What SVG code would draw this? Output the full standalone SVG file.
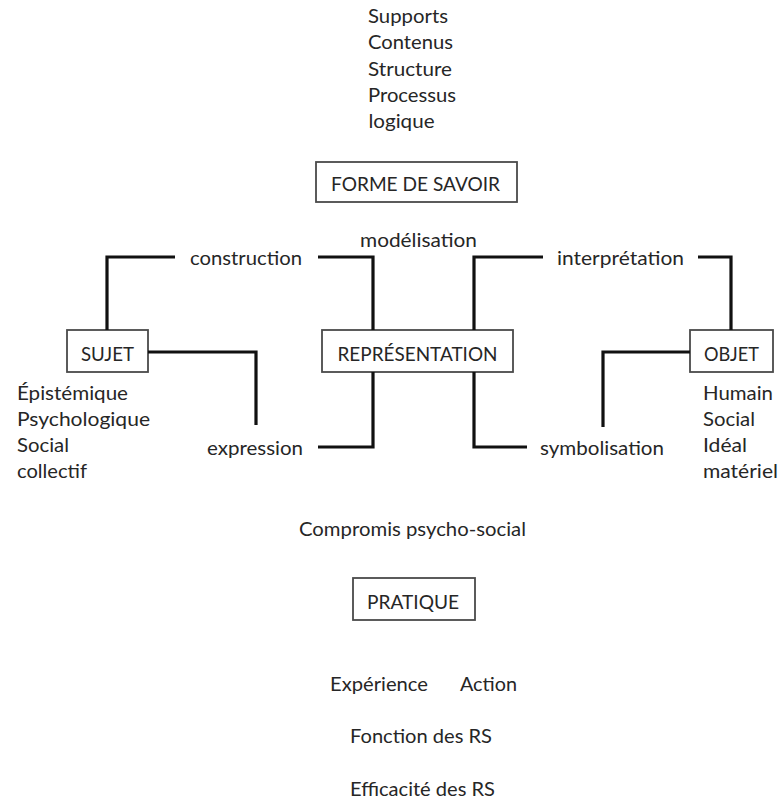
<svg xmlns="http://www.w3.org/2000/svg" width="782" height="802" viewBox="0 0 782 802">
<style>
text{font-family:Lato,"Open Sans","Liberation Sans",sans-serif;font-size:20px;fill:#262626}
.box{fill:#fff;stroke:#4a4a4a;stroke-width:1.8}
.ln{fill:none;stroke:#111;stroke-width:3.2;stroke-linejoin:miter}
</style>
<rect width="782" height="802" fill="#fff"/>
<g id="forme-list">
<text x="368" y="22.5" textLength="80" lengthAdjust="spacingAndGlyphs">Supports</text>
<text x="368" y="49" textLength="85" lengthAdjust="spacingAndGlyphs">Contenus</text>
<text x="368" y="75.5" textLength="84" lengthAdjust="spacingAndGlyphs">Structure</text>
<text x="368" y="102" textLength="88" lengthAdjust="spacingAndGlyphs">Processus</text>
<text x="368.5" y="128" textLength="66" lengthAdjust="spacingAndGlyphs">logique</text>
</g>
<g id="forme"><rect class="box" x="316" y="162" width="201" height="40"/><text x="331" y="191" textLength="169" lengthAdjust="spacingAndGlyphs">FORME DE SAVOIR</text></g>
<g id="sujet"><rect class="box" x="67" y="330" width="81" height="42"/><text x="81" y="361" textLength="53" lengthAdjust="spacingAndGlyphs">SUJET</text></g>
<g id="representation"><rect class="box" x="322" y="330" width="191" height="42"/><text x="337.5" y="361" textLength="160" lengthAdjust="spacingAndGlyphs">REPRÉSENTATION</text></g>
<g id="objet"><rect class="box" x="690" y="330" width="83" height="42"/><text x="704" y="361" textLength="55" lengthAdjust="spacingAndGlyphs">OBJET</text></g>
<g id="pratique"><rect class="box" x="353" y="578" width="122" height="42"/><text x="367" y="608.5" textLength="92" lengthAdjust="spacingAndGlyphs">PRATIQUE</text></g>
<g id="connectors">
<path class="ln" d="M107,330 V257 H175"/>
<path class="ln" d="M318,257 H373 V330"/>
<path class="ln" d="M148,352 H256 V425"/>
<path class="ln" d="M318,447 H373 V372"/>
<path class="ln" d="M474,330 V257 H543"/>
<path class="ln" d="M698,257 H731 V330"/>
<path class="ln" d="M690,352 H603 V427"/>
<path class="ln" d="M474,372 V447 H527"/>
</g>
<g id="labels">
<text x="360" y="247" textLength="117" lengthAdjust="spacingAndGlyphs">modélisation</text>
<text x="190" y="265" textLength="112" lengthAdjust="spacingAndGlyphs">construction</text>
<text x="557" y="265" textLength="127" lengthAdjust="spacingAndGlyphs">interprétation</text>
<text x="207" y="455" textLength="96" lengthAdjust="spacingAndGlyphs">expression</text>
<text x="540" y="455" textLength="124" lengthAdjust="spacingAndGlyphs">symbolisation</text>
</g>
<g id="sujet-list">
<text x="17" y="400" textLength="111" lengthAdjust="spacingAndGlyphs">Épistémique</text>
<text x="17" y="426" textLength="133" lengthAdjust="spacingAndGlyphs">Psychologique</text>
<text x="17" y="452" textLength="52" lengthAdjust="spacingAndGlyphs">Social</text>
<text x="17" y="478" textLength="70" lengthAdjust="spacingAndGlyphs">collectif</text>
</g>
<g id="objet-list">
<text x="703" y="400" textLength="70" lengthAdjust="spacingAndGlyphs">Humain</text>
<text x="703" y="426" textLength="52" lengthAdjust="spacingAndGlyphs">Social</text>
<text x="703" y="452" textLength="44" lengthAdjust="spacingAndGlyphs">Idéal</text>
<text x="703" y="478" textLength="75" lengthAdjust="spacingAndGlyphs">matériel</text>
</g>
<g id="bottom">
<text x="299" y="536" textLength="227" lengthAdjust="spacingAndGlyphs">Compromis psycho-social</text>
<text x="330" y="691" textLength="98" lengthAdjust="spacingAndGlyphs">Expérience</text>
<text x="460" y="691" textLength="57" lengthAdjust="spacingAndGlyphs">Action</text>
<text x="350" y="743" textLength="142" lengthAdjust="spacingAndGlyphs">Fonction des RS</text>
<text x="350" y="796" textLength="145" lengthAdjust="spacingAndGlyphs">Efficacité des RS</text>
</g>
</svg>
